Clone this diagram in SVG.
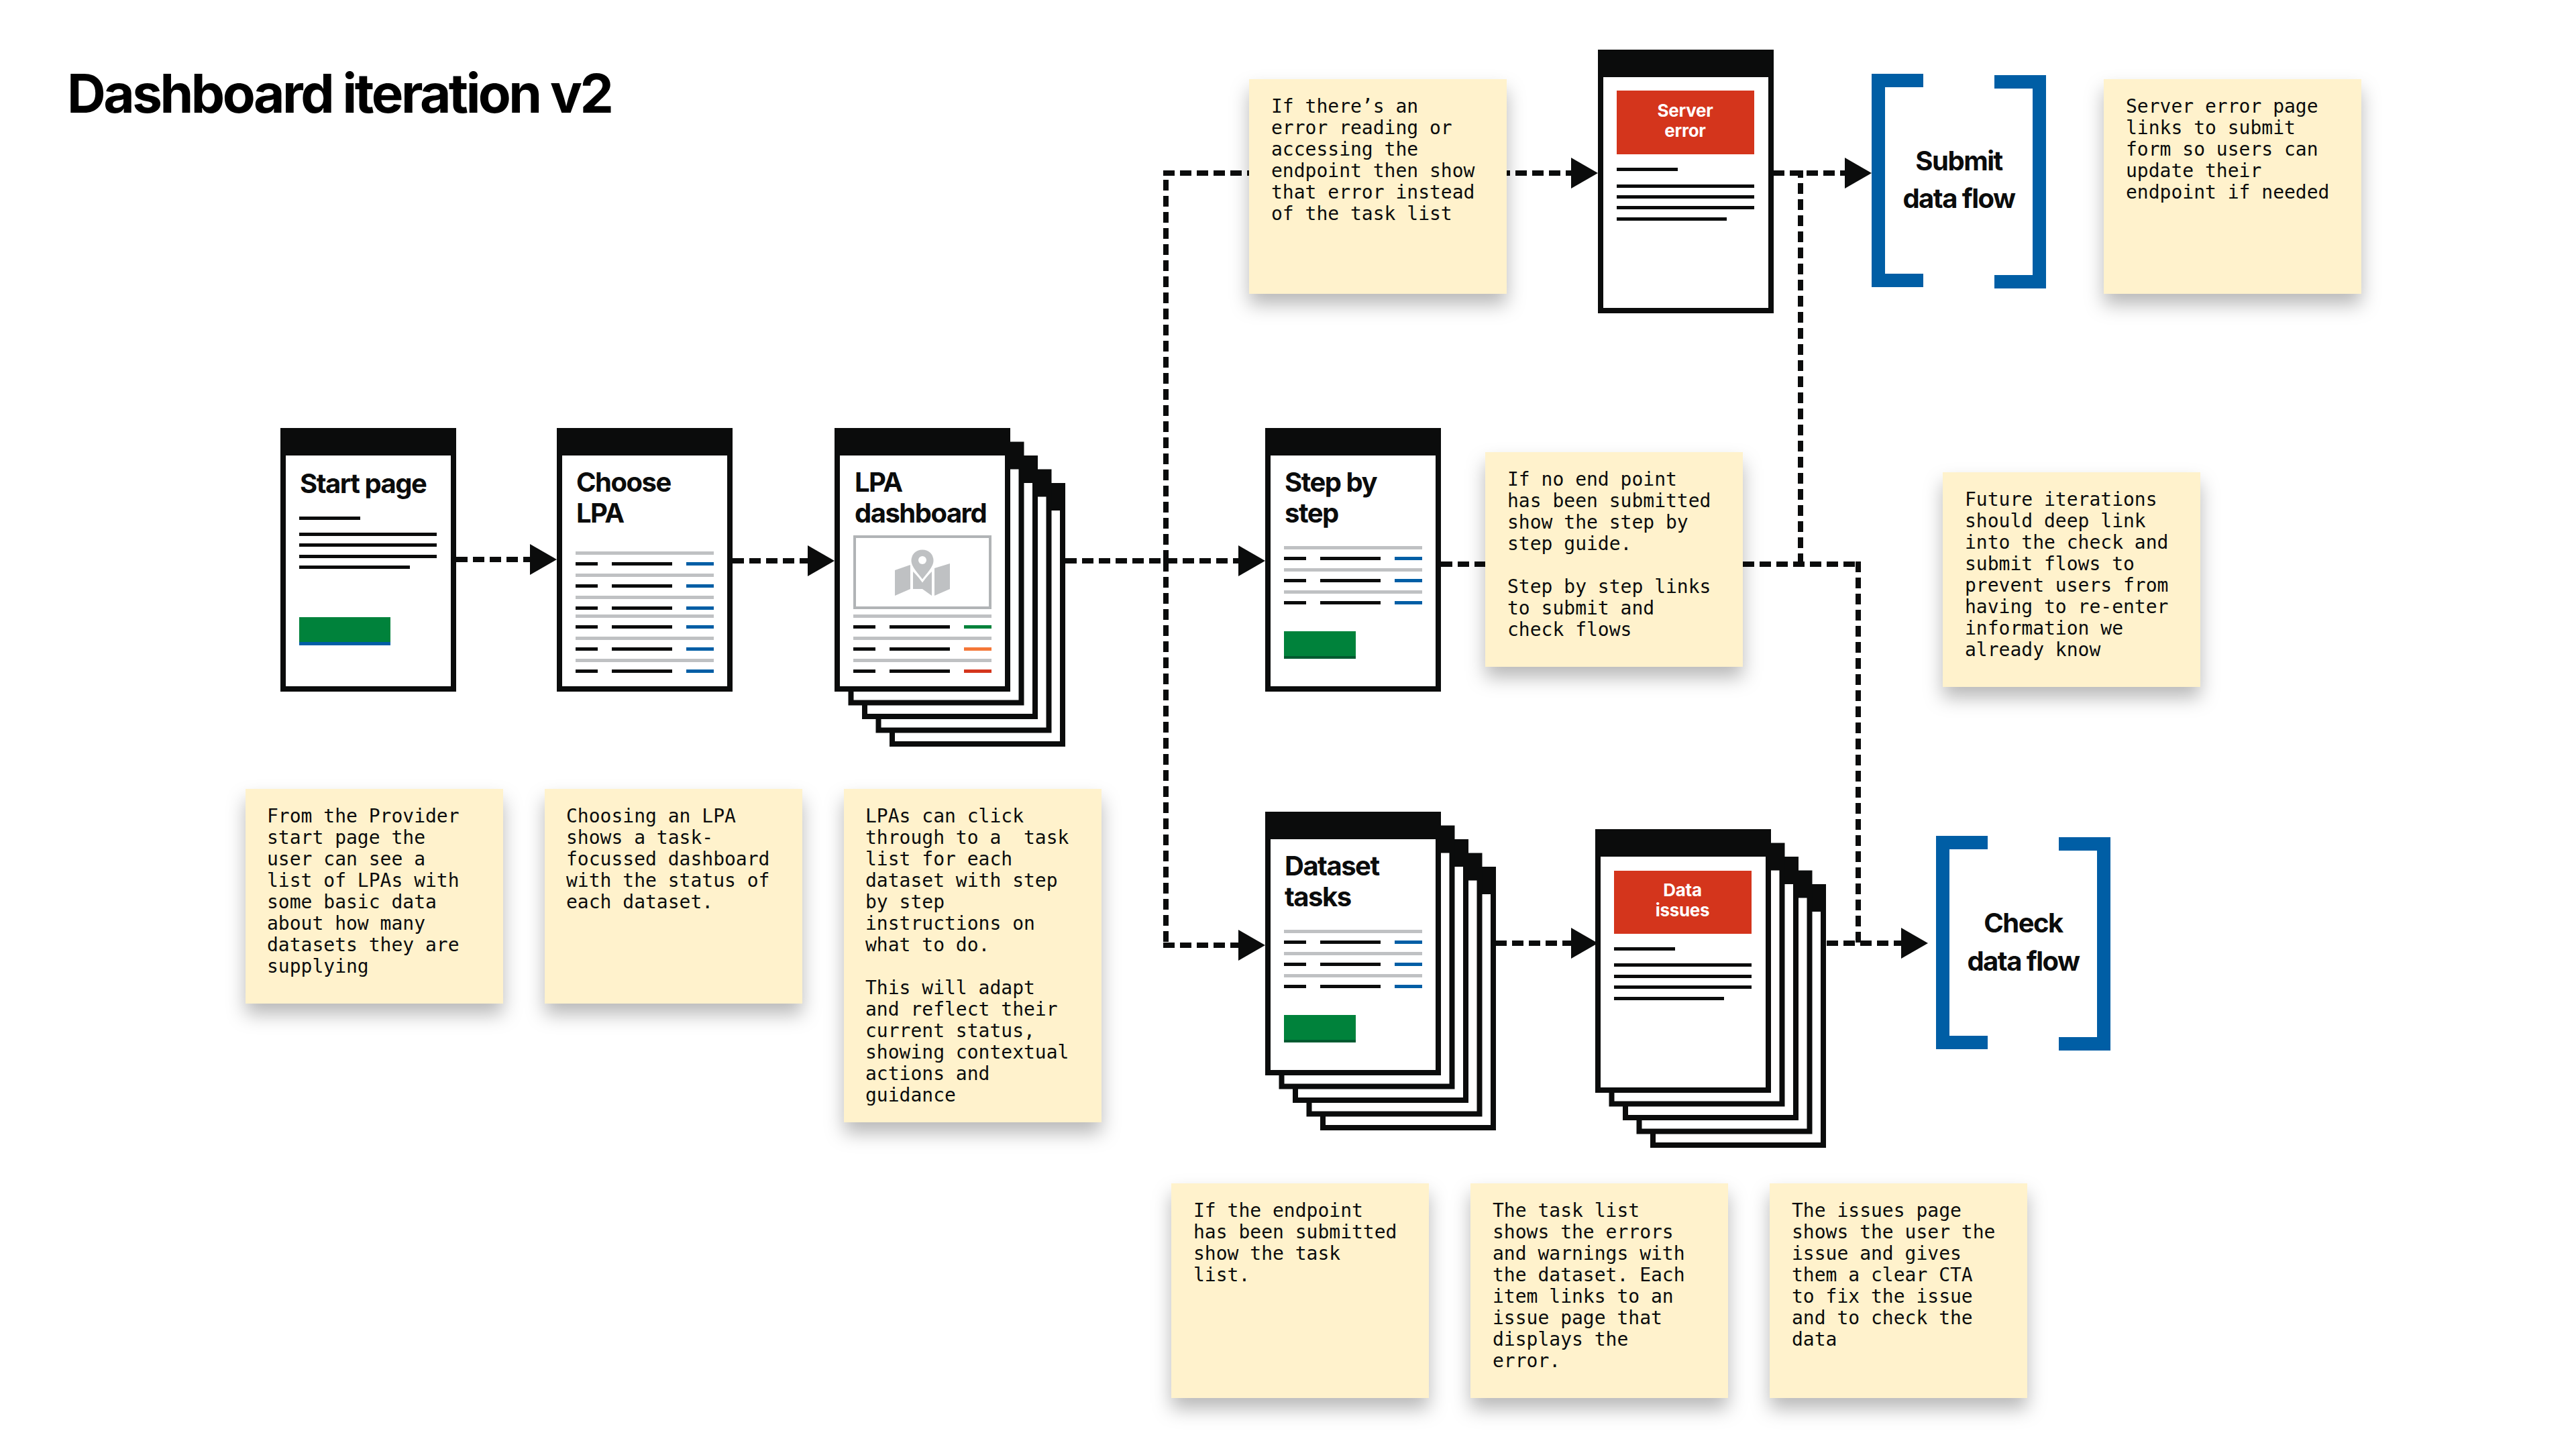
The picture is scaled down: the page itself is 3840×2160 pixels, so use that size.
<svg xmlns="http://www.w3.org/2000/svg" width="3840" height="2160" viewBox="0 0 3840 2160">
<style>
.note{fill:#fff2cc;filter:url(#sh)}
.m{font-family:"DejaVu Sans Mono",monospace;font-size:28px;fill:#0b0c0c;white-space:pre;transform:translateY(1px)}
.t{font-family:"Inter","Liberation Sans",sans-serif;font-size:40px;font-weight:700;letter-spacing:-1.5px;fill:#0b0c0c}
.w{font-family:"Inter","Liberation Sans",sans-serif;font-size:26px;font-weight:700;letter-spacing:-.3px;fill:#fff;text-anchor:middle}
.c{text-anchor:middle}
.k{fill:#0b0c0c}.g{fill:#bfc1c3}.b{fill:#005ea5}.gr{fill:#00823b}.gd{fill:#005a30}.r{fill:#d4351c}
.h,.v{fill:none;stroke:#0b0c0c;stroke-width:8}
.h{stroke-dasharray:17 8}.v{stroke-dasharray:16 8}
.arr{marker-end:url(#ah)}
</style>
<defs>
<filter id="sh" x="-30%" y="-20%" width="160%" height="150%"><feDropShadow dx="0" dy="16" stdDeviation="14" flood-color="#000" flood-opacity="0.28"/></filter>
<marker id="ah" markerUnits="userSpaceOnUse" markerWidth="42" markerHeight="46" refX="0" refY="23" orient="auto"><path d="M0,0L40,23L0,46Z" fill="#0b0c0c"/></marker>
<g id="page"><rect width="262" height="393" class="k"/><rect x="8" y="41" width="246" height="344" fill="#fff"/></g>
<g id="rows"><rect x="0" width="206" height="5" class="g"/><rect y="16" width="33" height="5" class="k"/><rect x="54" y="16" width="90" height="5" class="k"/><rect x="165" y="16" width="41" height="5" class="b"/></g>
<g id="rowp"><rect x="0" width="206" height="5" class="g"/><rect y="16" width="33" height="5" class="k"/><rect x="54" y="16" width="90" height="5" class="k"/></g>
<g id="note"><rect width="384" height="320" class="note"/></g>
</defs>
<rect width="3840" height="2160" fill="#fff"/>
<text id="title" x="100" y="168" font-family="Inter, 'Liberation Sans', sans-serif" font-size="80" font-weight="700" letter-spacing="-3.5" fill="#000">Dashboard iteration v2</text>
<g id="connectors">
<path class="h arr" d="M680 834H790"/>
<path class="h arr" d="M1092 836H1204"/>
<path class="h arr" d="M1588 836H1846"/>
<path class="v" d="M1738 836V254"/>
<path class="h arr" d="M1734 258H2342"/>
<path class="v" d="M1738 836V1413"/>
<path class="h arr" d="M1734 1409H1846"/>
<path class="h arr" d="M2643 258H2750"/>
<path class="h" d="M2148 841H2774"/>
<path class="v" d="M2770 837V1406"/>
<path class="v" d="M2684 841V254"/>
<path class="h arr" d="M2229 1406H2342"/>
<path class="h arr" d="M2723 1406H2834"/>
</g>
<g id="start-page"><use href="#page" x="418" y="638"/>
<text class="t" x="447" y="735">Start page</text>
<g class="k"><rect x="446" y="770" width="91" height="5"/><rect x="446" y="794" width="205" height="5"/><rect x="446" y="810" width="205" height="5"/><rect x="446" y="827" width="205" height="5"/><rect x="446" y="843" width="165" height="5"/></g>
<rect x="446" y="920" width="136" height="42" class="gr"/><rect x="446" y="957" width="136" height="5" class="b"/></g>
<g id="choose-lpa"><use href="#page" x="830" y="638"/>
<text class="t" x="859" y="733">Choose</text><text class="t" x="859" y="779">LPA</text>
<use href="#rows" x="858" y="822"/><use href="#rows" x="858" y="855"/><use href="#rows" x="858" y="888"/><use href="#rows" x="858" y="916"/><use href="#rows" x="858" y="949"/><use href="#rows" x="858" y="982"/></g>
<g id="lpa-dashboard"><use href="#page" x="1326" y="720"/><use href="#page" x="1305.5" y="699.5"/><use href="#page" x="1285" y="679"/><use href="#page" x="1264.5" y="658.5"/><use href="#page" x="1244" y="638"/>
<text class="t" x="1274" y="733">LPA</text><text class="t" x="1274" y="779">dashboard</text>
<rect x="1274" y="800" width="202" height="106" fill="#fff" stroke="#b1b4b6" stroke-width="4"/>
<g class="g"><path d="M1334 850L1357 842V878L1334 888Z"/><path d="M1361 852L1375 866L1389 852V888L1375 878H1361Z"/><path d="M1393 847L1416 840V878L1393 888Z"/>
<path d="M1375 818C1386 818 1393 826 1393 836C1393 846 1382 856 1375 866C1368 856 1357 846 1357 836C1357 826 1364 818 1375 818Z" stroke="#fff" stroke-width="3"/></g><circle cx="1375" cy="835" r="6" fill="#fff"/>
<use href="#rowp" x="1272" y="916"/><rect x="1437" y="932" width="41" height="5" class="gr"/>
<use href="#rowp" x="1272" y="949"/><rect x="1437" y="965" width="41" height="5" fill="#f47738"/>
<use href="#rowp" x="1272" y="982"/><rect x="1437" y="998" width="41" height="5" class="r"/></g>
<g id="step-by-step"><use href="#page" x="1886" y="638"/>
<text class="t" x="1915" y="733">Step by</text><text class="t" x="1915" y="779">step</text>
<use href="#rows" x="1914" y="814"/><use href="#rows" x="1914" y="847"/><use href="#rows" x="1914" y="880"/>
<rect x="1914" y="941" width="107" height="41" class="gr"/><rect x="1914" y="978" width="107" height="4" class="gd"/></g>
<g id="server-error"><use href="#page" x="2382" y="74"/>
<rect x="2410" y="135" width="205" height="95" class="r"/>
<text class="w" x="2512" y="174">Server</text><text class="w" x="2512" y="204">error</text>
<g class="k"><rect x="2410" y="250" width="91" height="5"/><rect x="2410" y="275" width="205" height="5"/><rect x="2410" y="291" width="205" height="5"/><rect x="2410" y="307" width="205" height="5"/><rect x="2410" y="324" width="164" height="5"/></g></g>
<g id="dataset-tasks"><use href="#page" x="1968" y="1292"/><use href="#page" x="1947.5" y="1271.5"/><use href="#page" x="1927" y="1251"/><use href="#page" x="1906.5" y="1230.5"/><use href="#page" x="1886" y="1210"/>
<text class="t" x="1915" y="1305">Dataset</text><text class="t" x="1915" y="1351">tasks</text>
<use href="#rows" x="1914" y="1386"/><use href="#rows" x="1914" y="1419"/><use href="#rows" x="1914" y="1452"/>
<rect x="1914" y="1513" width="107" height="41" class="gr"/><rect x="1914" y="1550" width="107" height="4" class="gd"/></g>
<g id="data-issues"><use href="#page" x="2460" y="1318"/><use href="#page" x="2439.5" y="1297.5"/><use href="#page" x="2419" y="1277"/><use href="#page" x="2398.5" y="1256.5"/><use href="#page" x="2378" y="1236"/>
<rect x="2406" y="1298" width="205" height="94" class="r"/>
<text class="w" x="2508" y="1336">Data</text><text class="w" x="2508" y="1366">issues</text>
<g class="k"><rect x="2406" y="1412" width="91" height="5"/><rect x="2406" y="1436" width="205" height="5"/><rect x="2406" y="1453" width="205" height="5"/><rect x="2406" y="1469" width="205" height="5"/><rect x="2406" y="1486" width="164" height="5"/></g></g>
<g id="submit-data-flow"><path class="b" d="M2867 110H2790V428H2867V408H2810V130H2867Z"/><path class="b" d="M2973 112H3050V430H2973V410H3030V132H2973Z"/>
<text class="t c" x="2920" y="254">Submit</text><text class="t c" x="2920" y="310">data flow</text></g>
<g id="check-data-flow"><path class="b" d="M2963 1246H2886V1564H2963V1544H2906V1266H2963Z"/><path class="b" d="M3069 1248H3146V1566H3069V1546H3126V1268H3069Z"/>
<text class="t c" x="3016" y="1390">Check</text><text class="t c" x="3016" y="1447">data flow</text></g>
<g id="note-server"><use href="#note" x="1862" y="118"/><text class="m" x="1895" y="167">If there’s an</text><text class="m" x="1895" y="199">error reading or</text><text class="m" x="1895" y="231">accessing the</text><text class="m" x="1895" y="263">endpoint then show</text><text class="m" x="1895" y="295">that error instead</text><text class="m" x="1895" y="327">of the task list</text></g>
<g id="note-submit"><use href="#note" x="3136" y="118"/><text class="m" x="3169" y="167">Server error page</text><text class="m" x="3169" y="199">links to submit</text><text class="m" x="3169" y="231">form so users can</text><text class="m" x="3169" y="263">update their</text><text class="m" x="3169" y="295">endpoint if needed</text></g>
<g id="note-step"><use href="#note" x="2214" y="674"/><text class="m" x="2247" y="723">If no end point</text><text class="m" x="2247" y="755">has been submitted</text><text class="m" x="2247" y="787">show the step by</text><text class="m" x="2247" y="819">step guide.</text><text class="m" x="2247" y="883">Step by step links</text><text class="m" x="2247" y="915">to submit and</text><text class="m" x="2247" y="947">check flows</text></g>
<g id="note-future"><use href="#note" x="2896" y="704"/><text class="m" x="2929" y="753">Future iterations</text><text class="m" x="2929" y="785">should deep link</text><text class="m" x="2929" y="817">into the check and</text><text class="m" x="2929" y="849">submit flows to</text><text class="m" x="2929" y="881">prevent users from</text><text class="m" x="2929" y="913">having to re-enter</text><text class="m" x="2929" y="945">information we</text><text class="m" x="2929" y="977">already know</text></g>
<g id="note-start"><use href="#note" x="366" y="1176"/><text class="m" x="398" y="1225">From the Provider</text><text class="m" x="398" y="1257">start page the</text><text class="m" x="398" y="1289">user can see a</text><text class="m" x="398" y="1321">list of LPAs with</text><text class="m" x="398" y="1353">some basic data</text><text class="m" x="398" y="1385">about how many</text><text class="m" x="398" y="1417">datasets they are</text><text class="m" x="398" y="1449">supplying</text></g>
<g id="note-choose"><use href="#note" x="812" y="1176"/><text class="m" x="844" y="1225">Choosing an LPA</text><text class="m" x="844" y="1257">shows a task-</text><text class="m" x="844" y="1289">focussed dashboard</text><text class="m" x="844" y="1321">with the status of</text><text class="m" x="844" y="1353">each dataset.</text></g>
<g id="note-lpa"><rect x="1258" y="1176" width="384" height="497" class="note"/><text class="m" x="1290" y="1225">LPAs can click</text><text class="m" x="1290" y="1257">through to a  task</text><text class="m" x="1290" y="1289">list for each</text><text class="m" x="1290" y="1321">dataset with step</text><text class="m" x="1290" y="1353">by step</text><text class="m" x="1290" y="1385">instructions on</text><text class="m" x="1290" y="1417">what to do.</text><text class="m" x="1290" y="1481">This will adapt</text><text class="m" x="1290" y="1513">and reflect their</text><text class="m" x="1290" y="1545">current status,</text><text class="m" x="1290" y="1577">showing contextual</text><text class="m" x="1290" y="1609">actions and</text><text class="m" x="1290" y="1641">guidance</text></g>
<g id="note-dataset"><use href="#note" x="1746" y="1764"/><text class="m" x="1779" y="1813">If the endpoint</text><text class="m" x="1779" y="1845">has been submitted</text><text class="m" x="1779" y="1877">show the task</text><text class="m" x="1779" y="1909">list.</text></g>
<g id="note-tasklist"><use href="#note" x="2192" y="1764"/><text class="m" x="2225" y="1813">The task list</text><text class="m" x="2225" y="1845">shows the errors</text><text class="m" x="2225" y="1877">and warnings with</text><text class="m" x="2225" y="1909">the dataset. Each</text><text class="m" x="2225" y="1941">item links to an</text><text class="m" x="2225" y="1973">issue page that</text><text class="m" x="2225" y="2005">displays the</text><text class="m" x="2225" y="2037">error.</text></g>
<g id="note-issues"><use href="#note" x="2638" y="1764"/><text class="m" x="2671" y="1813">The issues page</text><text class="m" x="2671" y="1845">shows the user the</text><text class="m" x="2671" y="1877">issue and gives</text><text class="m" x="2671" y="1909">them a clear CTA</text><text class="m" x="2671" y="1941">to fix the issue</text><text class="m" x="2671" y="1973">and to check the</text><text class="m" x="2671" y="2005">data</text></g>
</svg>
